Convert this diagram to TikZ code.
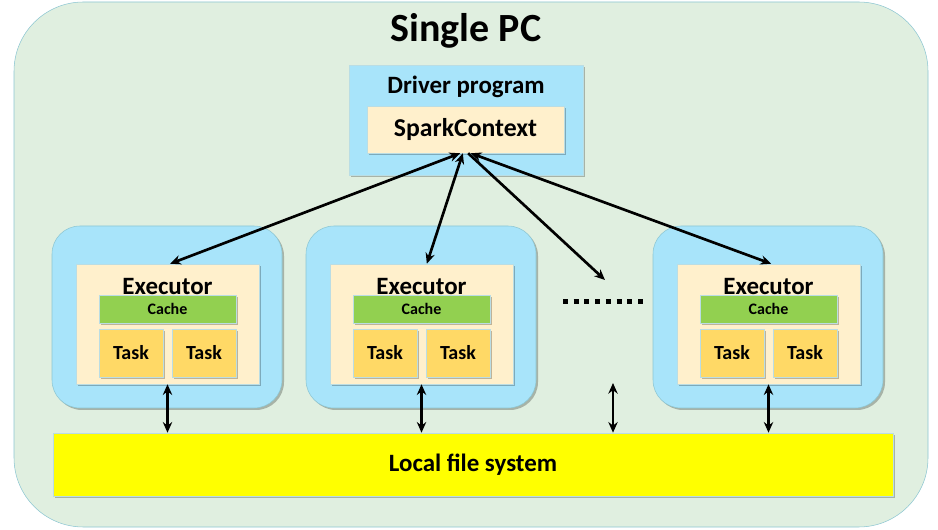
\documentclass[tikz,border=0pt]{standalone}
\usepackage{fontspec}
\setmainfont{Carlito}
\usetikzlibrary{arrows.meta}
\usetikzlibrary{positioning}
\usetikzlibrary{shadows}
\definecolor{pcfill}{HTML}{E0EFE0}
\definecolor{pcline}{HTML}{8CC6D2}
\definecolor{blobfill}{HTML}{A8E4FA}
\definecolor{creamfill}{HTML}{FFF0CC}
\definecolor{cachefill}{HTML}{92D050}
\definecolor{taskfill}{HTML}{FFD966}
\definecolor{fsfill}{HTML}{FFFF00}
\tikzset{
  boxshadow/.style={drop shadow={shadow xshift=1.5pt,shadow yshift=-1.5pt,fill=black,opacity=0.25}},
  blob/.style={draw=pcline,fill=blobfill,rounded corners=21pt,minimum width=172.5pt,minimum height=136.5pt,boxshadow},
  cream/.style={draw=pcline!60,fill=creamfill,minimum width=137.25pt,minimum height=90pt,boxshadow},
  cache/.style={draw=pcline!60,fill=cachefill,minimum width=102.75pt,minimum height=21pt,font=\bfseries\fontsize{12}{14}\selectfont,boxshadow},
  task/.style={draw=pcline!60,fill=taskfill,minimum width=48pt,minimum height=36pt,font=\bfseries\fontsize{15}{17}\selectfont,boxshadow},
  label/.style={font=\bfseries\fontsize{18.7}{21}\selectfont},
  link/.style={{Stealth[length=8pt,width=7pt]}-{Stealth[length=8pt,width=7pt]},line width=2pt},
  tolink/.style={-{Stealth[length=8pt,width=7pt]},line width=2pt}
}
\begin{document}
\begin{tikzpicture}[x=0.75pt,y=0.75pt,yscale=-1,xscale=1]
\useasboundingbox (0,0) rectangle (938,530);

% Single PC
\node [draw=pcline,fill=pcfill,rounded corners=52pt,minimum width=685.5pt,minimum height=393.75pt] (pc) at (471,264.5) {};
\node [font=\bfseries\fontsize{30}{34}\selectfont] (pctitle) at (466,31) {Single PC};

% Driver program
\node [draw=pcline!60,fill=blobfill,minimum width=175.5pt,minimum height=82.5pt,boxshadow] (driver) at (466,120) {};
\node [label] (drivertext) at (466,87) {Driver program};
\node [draw=pcline!60,fill=creamfill,minimum width=147.75pt,minimum height=35.25pt,font=\bfseries\fontsize{19.3}{22}\selectfont,boxshadow] (sc) at (465.5,129.5) {\raisebox{-1pt}{SparkContext}};

% Executors
\foreach \i/\dx in {1/0,2/254,3/601}{
  \node [blob] (blob\i) at (167+\dx,317) {};
  \node [cream] (exec\i) at (167.5+\dx,324) {};
  \node [label] (exectext\i) at (167.5+\dx,287) {Executor};
  \node [cache] (cache\i) at (167.5+\dx,309) {Cache};
  \node [task] (taska\i) at (131+\dx,353) {Task};
  \node [task] (taskb\i) at (204+\dx,353) {Task};
}

% dots
\draw [line width=3.75pt,dash pattern=on 3.75pt off 4.3pt] (563,302) -- (646,302);
\coordinate (dotsend) at (605,280);
\coordinate (dotsup) at (613,383);

% Local file system
\node [draw=pcline!60,fill=fsfill,minimum width=630pt,minimum height=47.25pt,font=\bfseries\fontsize{18.7}{21}\selectfont,boxshadow] (lfs) at (473,464.5) {Local file system};

% Arrows
\draw [link] ([xshift=-4pt]sc.south) -- ([xshift=2pt]exec1.north);
\draw [link] ([xshift=-2pt]sc.south) -- ([xshift=4pt]exec2.north);
\draw [tolink] ([xshift=2pt]sc.south) -- (dotsend);
\draw [link] ([xshift=4pt]sc.south) -- ([xshift=2pt]exec3.north);

\draw [link] (exec1.south) -- (exec1.south |- lfs.north);
\draw [link] (exec2.south) -- (exec2.south |- lfs.north);
\draw [link] (dotsup) -- (dotsup |- lfs.north);
\draw [link] (exec3.south) -- (exec3.south |- lfs.north);

\end{tikzpicture}
\end{document}
